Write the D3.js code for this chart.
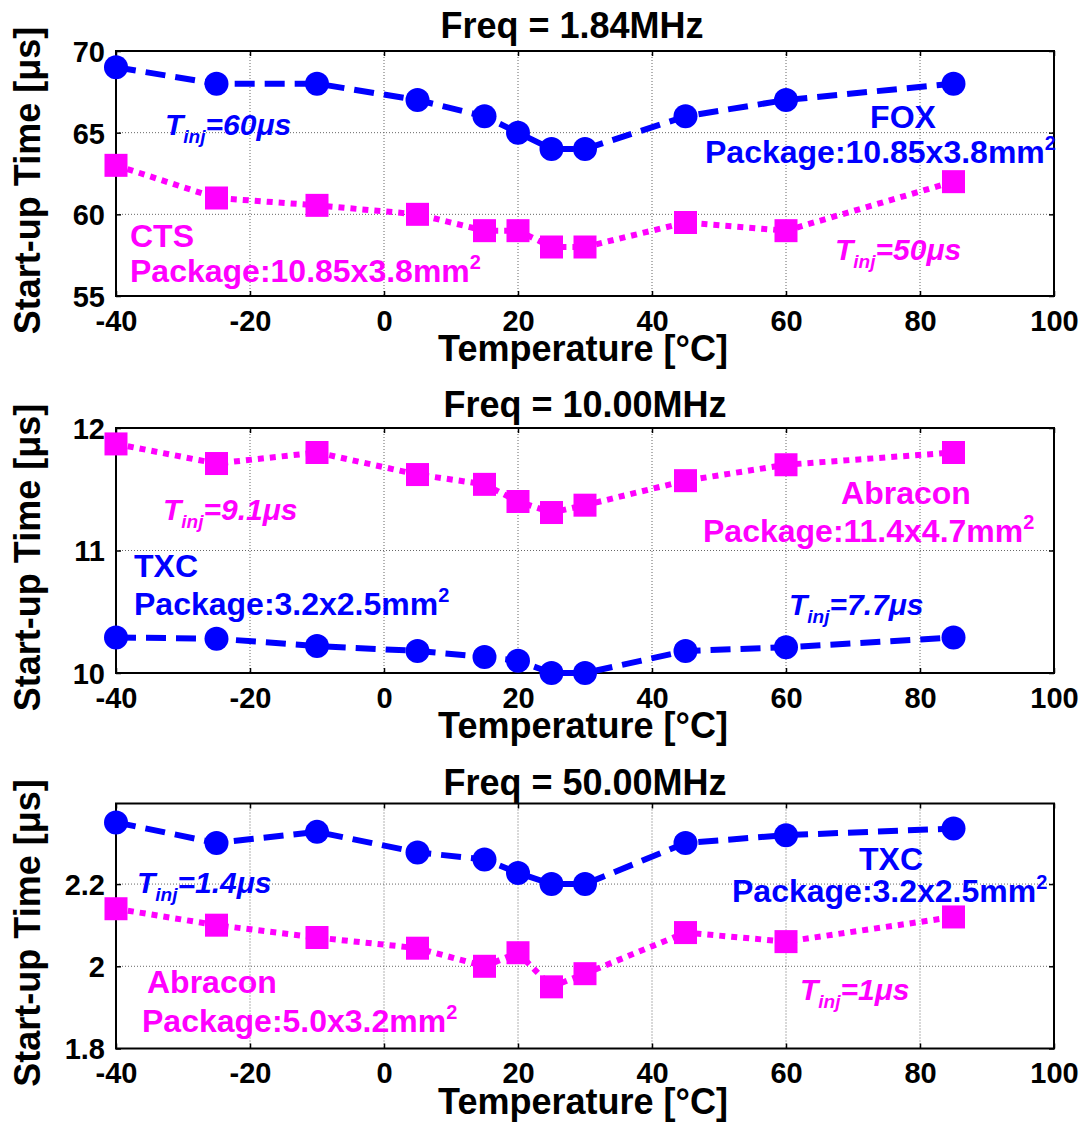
<!DOCTYPE html>
<html><head><meta charset="utf-8">
<script src="https://cdn.jsdelivr.net/npm/d3@7"></script>
<style>
body{margin:0;background:#fff}
text{font-family:"Liberation Sans",Arial,Helvetica,sans-serif;font-weight:bold}
</style>
</head><body>
<svg id="chart" width="1086" height="1125"></svg>
<script>
// ---------- data ----------
const temperatures = [-40, -25, -10, 5, 15, 20, 25, 30, 45, 60, 85];
const xTicks = [-40, -20, 0, 20, 40, 60, 80, 100];

const titles = ["Freq = 1.84MHz", "Freq = 10.00MHz", "Freq = 50.00MHz"];

// 1.84 MHz
const fox184 = [69, 68, 68, 67, 66, 65, 64, 64, 66, 67, 68];
const cts184 = [63, 61, 60.55, 60, 59, 59, 58, 58, 59.5, 59, 62];
const yTicks184 = [55, 60, 65, 70];

// 10.00 MHz
const abracon10 = [11.87, 11.71, 11.80, 11.62, 11.54, 11.40, 11.31, 11.37, 11.57, 11.70, 11.80];
const txc10 = [10.29, 10.28, 10.22, 10.18, 10.13, 10.10, 10.0, 10.0, 10.18, 10.21, 10.29];
const yTicks10 = [10, 11, 12];

// 50.00 MHz
const txc50 = [2.35, 2.30, 2.327, 2.277, 2.26, 2.227, 2.20, 2.20, 2.30, 2.319, 2.335];
const abracon50 = [2.14, 2.10, 2.07, 2.044, 2.00, 2.033, 1.95, 1.982, 2.082, 2.06, 2.12];
const yTicks50 = [1.8, 2, 2.2];

const BLUE = "#0000ff", PINK = "#ff00ff";

// ---------- drawing ----------
const svg = d3.select("#chart");
const left = 116, right = 1054;
const x = d3.scaleLinear().domain([-40, 100]).range([left, right]);

function drawPanel(cfg) {
  const g = svg.append("g");
  const y = d3.scaleLinear().domain(cfg.yDomain).range([cfg.bottom, cfg.top]);

  // grid
  g.append("g").selectAll("line").data(xTicks.slice(1, -1)).join("line")
    .attr("x1", d => x(d)).attr("x2", d => x(d)).attr("y1", cfg.top).attr("y2", cfg.bottom)
    .attr("stroke", "#666").attr("stroke-width", 1).attr("stroke-dasharray", "1,2");
  g.append("g").selectAll("line").data(cfg.yTicks.filter(v => y(v) > cfg.top + 1 && y(v) < cfg.bottom - 1)).join("line")
    .attr("y1", d => y(d)).attr("y2", d => y(d)).attr("x1", left).attr("x2", right)
    .attr("stroke", "#666").attr("stroke-width", 1).attr("stroke-dasharray", "1,2");

  // axes via d3 (inward ticks)
  const xb = g.append("g").attr("transform", `translate(0,${cfg.bottom})`)
    .call(d3.axisBottom(x).tickValues(xTicks).tickSize(-5).tickPadding(14).tickFormat(d => String(d)));
  const xt = g.append("g").attr("transform", `translate(0,${cfg.top})`)
    .call(d3.axisTop(x).tickValues(xTicks).tickSize(-5).tickFormat(""));
  const yl = g.append("g").attr("transform", `translate(${left},0)`)
    .call(d3.axisLeft(y).tickValues(cfg.yTicks).tickSize(-5).tickPadding(11).tickFormat(d => String(d)));
  const yr = g.append("g").attr("transform", `translate(${right},0)`)
    .call(d3.axisRight(y).tickValues(cfg.yTicks).tickSize(-5).tickFormat(""));
  [xb, xt, yl, yr].forEach(a => {
    a.select(".domain").remove();
    a.selectAll("line").attr("stroke", "#000").attr("stroke-width", 1.5);
    a.selectAll("text").attr("fill", "#000").attr("font-size", 29).attr("font-family", null);
  });
  xb.selectAll("text").attr("dy", "0.71em");
  yl.selectAll("text").attr("dy", "0.36em");

  // box
  g.append("rect").attr("x", left).attr("y", cfg.top).attr("width", right - left).attr("height", cfg.bottom - cfg.top)
    .attr("fill", "none").attr("stroke", "#000").attr("stroke-width", 2);

  // lines
  const line = d3.line().x((d, i) => x(temperatures[i])).y(d => y(d));
  cfg.series.forEach(s => {
    g.append("path").datum(s.values).attr("d", line).attr("fill", "none")
      .attr("stroke", s.color).attr("stroke-width", 6)
      .attr("stroke-dasharray", s.marker === "circle" ? "20,10" : "6,6");
  });
  cfg.series.forEach(s => {
    if (s.marker === "circle") {
      g.append("g").selectAll("circle").data(s.values).join("circle")
        .attr("cx", (d, i) => x(temperatures[i])).attr("cy", d => y(d)).attr("r", 12).attr("fill", s.color);
    } else {
      g.append("g").selectAll("rect").data(s.values).join("rect")
        .attr("x", (d, i) => x(temperatures[i]) - 11.5).attr("y", d => y(d) - 11.5)
        .attr("width", 23).attr("height", 23).attr("fill", s.color);
    }
  });

  // title
  g.append("text").attr("x", cfg.titleX).attr("y", cfg.titleY).attr("text-anchor", "middle")
    .attr("font-size", 36).attr("fill", "#000").text(cfg.title);
  // axis labels
  g.append("text").attr("x", (left + right) / 2 - 2).attr("y", cfg.bottom + 65).attr("text-anchor", "middle")
    .attr("font-size", 36).attr("fill", "#000").text("Temperature [°C]");
  g.append("text").attr("transform", `translate(40,${(cfg.top + cfg.bottom) / 2 + 7}) rotate(-90)`)
    .attr("text-anchor", "middle").attr("font-size", 36).attr("fill", "#000").text("Start-up Time [μs]");
  return g;
}

function note(x0, y0, color, text, anchor) {
  const t = svg.append("text").attr("x", x0).attr("y", y0).attr("fill", color)
    .attr("font-size", 32).attr("text-anchor", anchor || "start");
  if (text.endsWith("²")) {
    t.append("tspan").text(text.slice(0, -1));
    t.append("tspan").attr("dy", -13).attr("font-size", 20).text("2");
  } else t.text(text);
}
function tinj(x0, y0, color, value) {
  const t = svg.append("text").attr("x", x0).attr("y", y0).attr("fill", color)
    .attr("font-size", 30).attr("font-style", "italic");
  t.append("tspan").text("T");
  t.append("tspan").attr("dy", 8).attr("font-size", 19).text("inj");
  t.append("tspan").attr("dy", -8).text("=" + value);
}

drawPanel({ top: 51, bottom: 296, yDomain: [55, 70], yTicks: yTicks184, title: titles[0], titleX: 572, titleY: 38,
  series: [{ values: cts184, color: PINK, marker: "square" }, { values: fox184, color: BLUE, marker: "circle" }] });
drawPanel({ top: 428, bottom: 673, yDomain: [10, 12], yTicks: yTicks10, title: titles[1], titleX: 585, titleY: 416.5,
  series: [{ values: abracon10, color: PINK, marker: "square" }, { values: txc10, color: BLUE, marker: "circle" }] });
drawPanel({ top: 803.5, bottom: 1048.5, yDomain: [1.8, 2.396], yTicks: yTicks50, title: titles[2], titleX: 585, titleY: 795,
  series: [{ values: abracon50, color: PINK, marker: "square" }, { values: txc50, color: BLUE, marker: "circle" }] });

// annotations panel 1
tinj(165, 135, BLUE, "60μs");
note(903, 128, BLUE, "FOX", "middle");
note(705, 163, BLUE, "Package:10.85x3.8mm²");
note(130, 247, PINK, "CTS");
note(130, 282, PINK, "Package:10.85x3.8mm²");
tinj(835, 260, PINK, "50μs");
// panel 2
tinj(163, 520, PINK, "9.1μs");
note(134, 577, BLUE, "TXC");
note(134, 615, BLUE, "Package:3.2x2.5mm²");
note(906, 504, PINK, "Abracon", "middle");
note(703, 542, PINK, "Package:11.4x4.7mm²");
tinj(789, 615, BLUE, "7.7μs");
// panel 3
tinj(137, 893, BLUE, "1.4μs");
note(147, 993, PINK, "Abracon");
note(142, 1032, PINK, "Package:5.0x3.2mm²");
note(891, 870, BLUE, "TXC", "middle");
note(732, 902, BLUE, "Package:3.2x2.5mm²");
tinj(800, 1000, PINK, "1μs");
</script>
</body></html>
